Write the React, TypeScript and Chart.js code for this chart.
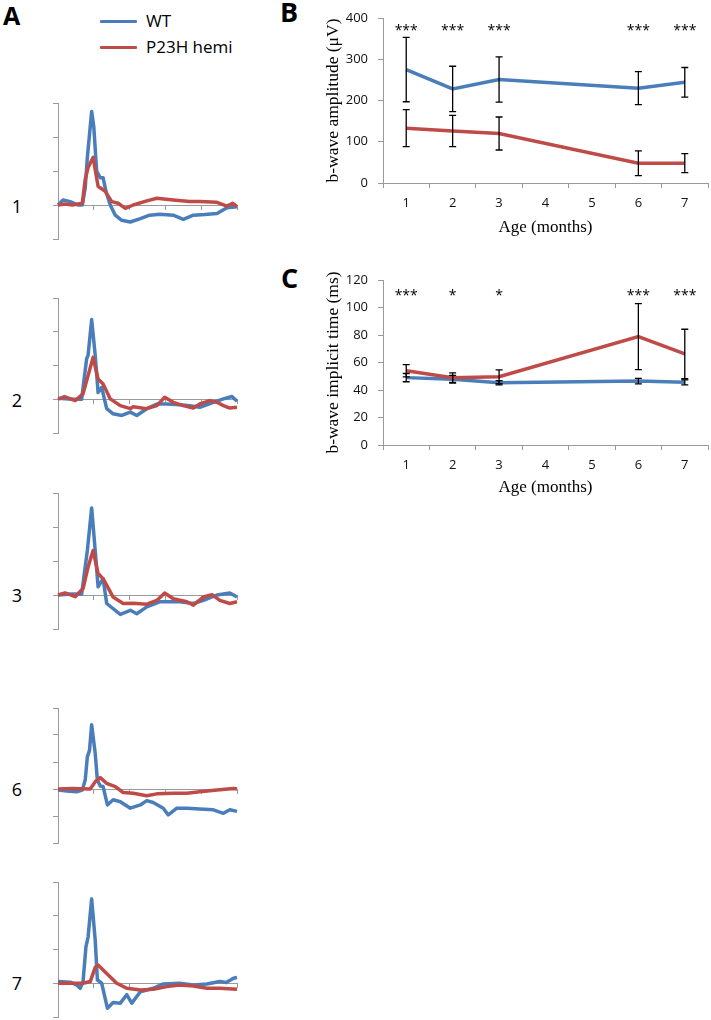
import React, { useEffect, useRef } from "react";
import { Chart, registerables } from "chart.js";

Chart.register(...registerables);

// ---------- Panel A: ERG traces (time in ms, amplitude in axis units) ----------
const traceTimeTicks = [0, 50, 100, 150, 200, 250];

const trace1WT = [[0,0],[7,0.15],[17,0.1],[28,0],[34,0],[38,0.5],[41,1.4],[45,2.3],[47,2.75],[50,2.3],[54,1.0],[59,0.8],[63,0.8],[67,0.4],[73,0],[80,-0.3],[89,-0.45],[101,-0.5],[115,-0.4],[128,-0.3],[142,-0.27],[161,-0.3],[175,-0.42],[189,-0.3],[205,-0.28],[222,-0.25],[236,-0.08],[250,-0.05]];
const trace1P23H = [[0,0],[10,0.03],[20,0],[34,0.05],[38,0.75],[42,1.1],[49,1.4],[56,0.55],[66,0.4],[75,0.1],[84,0.05],[94,-0.1],[105,0],[124,0.12],[138,0.2],[161,0.15],[184,0.1],[198,0.1],[222,0.08],[236,-0.03],[244,0.05],[250,-0.05]];

const trace2WT = [[0,0.03],[20,0],[33,0],[40,1.2],[42,1.3],[47,2.36],[52,1.3],[56,0.2],[61,0.35],[68,-0.28],[77,-0.43],[89,-0.48],[101,-0.38],[110,-0.48],[124,-0.28],[138,-0.14],[152,-0.14],[170,-0.16],[184,-0.19],[198,-0.24],[217,-0.09],[231,0.01],[243,0.08],[250,-0.06]];
const trace2P23H = [[0,0],[9,0.08],[24,-0.04],[35,0.16],[42,0.7],[49,1.24],[56,0.6],[63,0.45],[73,0.01],[87,-0.19],[101,-0.28],[105,-0.22],[124,-0.28],[138,-0.19],[149,0.06],[161,-0.09],[175,-0.19],[189,-0.26],[198,-0.14],[212,-0.04],[222,-0.09],[231,-0.19],[240,-0.26],[250,-0.24]];

const trace3WT = [[0,0],[20,0.03],[33,0.02],[41,1.31],[47,2.56],[52,1.3],[56,0.24],[63,0.48],[68,-0.25],[87,-0.57],[101,-0.45],[110,-0.55],[124,-0.35],[142,-0.2],[170,-0.2],[189,-0.25],[203,-0.16],[222,0],[240,0.06],[250,-0.06]];
const trace3P23H = [[0,0],[10,0.06],[24,-0.05],[35,0.19],[42,0.82],[49,1.31],[56,0.63],[63,0.48],[77,-0.06],[91,-0.25],[105,-0.24],[124,-0.27],[138,-0.16],[149,0.06],[161,-0.11],[180,-0.2],[189,-0.3],[203,-0.06],[215,0.01],[226,-0.16],[240,-0.25],[250,-0.2]];

const trace6WT = [[0,-0.04],[12,-0.07],[26,-0.1],[34,-0.04],[38,0.33],[41,1.19],[44,1.43],[47,2.38],[52,1.31],[55,0.33],[59,0.11],[63,0.09],[69,-0.59],[77,-0.4],[87,-0.47],[101,-0.71],[115,-0.59],[124,-0.43],[133,-0.5],[147,-0.71],[154,-0.96],[166,-0.71],[180,-0.71],[198,-0.74],[217,-0.77],[231,-0.9],[240,-0.77],[250,-0.83]];
const trace6P23H = [[0,0],[20,0.02],[45,0],[52,0.27],[59,0.42],[68,0.21],[80,0.09],[91,-0.13],[105,-0.16],[124,-0.25],[138,-0.18],[161,-0.16],[180,-0.16],[198,-0.1],[222,-0.04],[245,0.02],[250,0]];

const trace7WT = [[0,0.05],[17,0.03],[26,-0.05],[31,-0.15],[35,0.05],[39,1.08],[42,1.37],[47,2.5],[52,1.27],[55,0.1],[61,0],[69,-0.74],[77,-0.57],[87,-0.59],[96,-0.34],[103,-0.59],[115,-0.25],[133,-0.15],[147,-0.02],[170,0],[189,-0.05],[208,-0.02],[226,0.05],[235,0.02],[245,0.15],[250,0.17]];
const trace7P23H = [[0,0],[35,0],[45,0.05],[52,0.47],[56,0.54],[68,0.29],[82,0],[96,-0.15],[115,-0.2],[133,-0.18],[152,-0.1],[170,-0.05],[189,-0.08],[208,-0.15],[226,-0.15],[250,-0.18]];

const traceAges = ["1", "2", "3", "6", "7"];
const traceYMin = [-1, -1, -1, -2, -1];
const traceYMax = [3, 3, 3, 3, 3];

// ---------- Panels B and C ----------
const ageLabels = ["1", "2", "3", "4", "5", "6", "7"];

const ampWT = [275, 228, 251, null, null, 230, 244];
const ampWTErr = [78, 55, 55, null, null, 40, 36];
const ampP23H = [133, 126, 120, null, null, 48, 48];
const ampP23HErr = [45, 38, 40, null, null, 30, 23];
const ampStars = ["***", "***", "***", "", "", "***", "***"];
const ampStarLevel = 378;

const timeWT = [49, 47.8, 45.3, null, null, 46.5, 45.6];
const timeWTErr = [3, 2.8, 1.5, null, null, 2, 1.8];
const timeP23H = [54, 49, 49.7, null, null, 78.8, 66.2];
const timeP23HErr = [4.5, 3.5, 5, null, null, 24, 18];
const timeStars = ["***", "*", "*", "", "", "***", "***"];
const timeStarLevel = 111;

const BLUE = "#4a7ebb";
const RED = "#be4b48";
const AXIS = "#9a9a9a";
const SANS = '"Open Sans", "Noto Sans", sans-serif';
const SERIF = '"Liberation Serif", "DejaVu Serif", serif';

function toXY(arr: number[][]) {
  return arr.map(([x, y]) => ({ x, y }));
}

function traceConfig(wt: number[][], p23h: number[][], yMin: number, yMax: number): any {
  return {
    type: "line",
    data: {
      datasets: [
        { label: "WT", data: toXY(wt), borderColor: BLUE, borderWidth: 3.5, pointRadius: 0, tension: 0, clip: 6, order: 2, borderJoinStyle: "round" },
        { label: "P23H hemi", data: toXY(p23h), borderColor: RED, borderWidth: 3.5, pointRadius: 0, tension: 0, clip: 6, order: 1, borderJoinStyle: "round" },
      ],
    },
    options: {
      animation: false,
      responsive: false,
      maintainAspectRatio: false,
      events: [],
      layout: { padding: { left: 52, right: 8, top: 6, bottom: 6 } },
      plugins: { legend: { display: false }, tooltip: { enabled: false } },
      scales: {
        x: {
          type: "linear",
          min: traceTimeTicks[0],
          max: traceTimeTicks[traceTimeTicks.length - 1],
          position: { y: 0 },
          afterBuildTicks: (s: any) => { s.ticks = traceTimeTicks.map((v) => ({ value: v })); },
          ticks: { display: false },
          grid: { drawOnChartArea: false, drawTicks: true, tickLength: 4, color: AXIS },
          border: { display: true, color: AXIS, width: 1 },
          afterFit: (s: any) => { s.height = 0; },
        },
        y: {
          type: "linear",
          min: yMin,
          max: yMax,
          ticks: { display: false, stepSize: 1 },
          grid: { drawOnChartArea: false, drawTicks: true, tickLength: 5, color: AXIS },
          border: { display: true, color: AXIS, width: 1 },
          afterFit: (s: any) => { s.width = 6; },
        },
      },
    },
  };
}

function makeAnnotPlugin(stars: string[], starLevel: number) {
  return {
    id: "annot",
    afterDatasetsDraw(chart: any) {
      const { ctx } = chart;
      const xs = chart.scales.x;
      const ys = chart.scales.y;
      ctx.save();
      // error bars
      ctx.strokeStyle = "#000";
      ctx.lineWidth = 1.3;
      chart.data.datasets.forEach((ds: any, di: number) => {
        const meta = chart.getDatasetMeta(di);
        ds.data.forEach((v: number | null, i: number) => {
          const e = ds.errors[i];
          if (v == null || e == null) return;
          const x = meta.data[i].x;
          const yt = ys.getPixelForValue(v + e);
          const yb = ys.getPixelForValue(v - e);
          ctx.beginPath();
          ctx.moveTo(x, yt); ctx.lineTo(x, yb);
          ctx.moveTo(x - 3.5, yt); ctx.lineTo(x + 3.5, yt);
          ctx.moveTo(x - 3.5, yb); ctx.lineTo(x + 3.5, yb);
          ctx.stroke();
        });
      });
      // significance stars
      ctx.fillStyle = "#000";
      ctx.font = "14px " + SANS;
      ctx.textAlign = "center";
      ctx.textBaseline = "middle";
      stars.forEach((t, i) => {
        if (!t) return;
        ctx.fillText(t, xs.getPixelForValue(i), ys.getPixelForValue(starLevel) + 4);
      });
      ctx.restore();
    },
  };
}

function ageConfig(
  wt: (number | null)[], wtErr: (number | null)[],
  p23h: (number | null)[], p23hErr: (number | null)[],
  stars: string[], starLevel: number,
  yMax: number, step: number, yTitle: string, padTop: number, xH: number
): any {
  return {
    type: "line",
    data: {
      labels: ageLabels,
      datasets: [
        { label: "WT", data: wt, errors: wtErr, borderColor: BLUE, borderWidth: 3.5, pointRadius: 0, spanGaps: true, tension: 0, order: 2 },
        { label: "P23H hemi", data: p23h, errors: p23hErr, borderColor: RED, borderWidth: 3.5, pointRadius: 0, spanGaps: true, tension: 0, order: 1 },
      ],
    },
    plugins: [makeAnnotPlugin(stars, starLevel)],
    options: {
      animation: false,
      responsive: false,
      maintainAspectRatio: false,
      events: [],
      layout: { padding: { left: 0, right: 3, top: padTop, bottom: 0 } },
      plugins: { legend: { display: false }, tooltip: { enabled: false } },
      scales: {
        x: {
          type: "category",
          offset: true,
          grid: { offset: true, drawOnChartArea: false, drawTicks: true, tickLength: 5, color: AXIS },
          border: { display: true, color: AXIS, width: 1 },
          ticks: { font: { family: SANS, size: 13 }, color: "#111", padding: 7, maxRotation: 0, autoSkip: false },
          title: { display: true, text: "Age (months)", font: { family: SERIF, size: 17 }, color: "#000", padding: { top: 0, bottom: 2 } },
          afterFit: (s: any) => { s.height = xH; },
        },
        y: {
          min: 0,
          max: yMax,
          ticks: { stepSize: step, font: { family: SANS, size: 13 }, color: "#111", padding: 10 },
          grid: { drawOnChartArea: false, drawTicks: true, tickLength: 5, color: AXIS },
          border: { display: true, color: AXIS, width: 1 },
          title: { display: true, text: yTitle, font: { family: SERIF, size: 17.5 }, color: "#000", padding: { top: 23, bottom: 0 } },
          afterFit: (s: any) => { s.width = 83; },
        },
      },
    },
  };
}

function ChartBox(props: { left: number; top: number; width: number; height: number; make: () => any }) {
  const ref = useRef<HTMLCanvasElement | null>(null);
  useEffect(() => {
    const chart = new Chart(ref.current as HTMLCanvasElement, props.make());
    return () => chart.destroy();
  }, []);
  return (
    <canvas
      ref={ref}
      width={props.width}
      height={props.height}
      style={{ position: "absolute", left: props.left, top: props.top, width: props.width, height: props.height }}
    />
  );
}

const traceSeries = [
  [trace1WT, trace1P23H],
  [trace2WT, trace2P23H],
  [trace3WT, trace3P23H],
  [trace6WT, trace6P23H],
  [trace7WT, trace7P23H],
];
// layout: top and bottom pixel of each trace's y-axis, and zero line position
const traceBoxes = [
  { top: 103, bottom: 239, zero: 206 },
  { top: 298, bottom: 433, zero: 400 },
  { top: 493, bottom: 629, zero: 595 },
  { top: 708, bottom: 843, zero: 789 },
  { top: 882, bottom: 1017, zero: 983 },
];

const textStyle = (left: number, top: number, size: number, bold = false): React.CSSProperties => ({
  position: "absolute",
  left,
  top,
  fontFamily: SANS,
  fontSize: size,
  fontWeight: bold ? 700 : 400,
  lineHeight: 1,
  color: "#000",
  whiteSpace: "nowrap",
});

export default function App() {
  return (
    <div style={{ position: "absolute", left: 0, top: 0, width: 711, height: 1020, background: "#fff", overflow: "hidden" }}>
      <div style={textStyle(3, 3, 25, true)}>A</div>
      <div style={textStyle(280, -2, 27, true)}>B</div>
      <div style={textStyle(281, 264, 27, true)}>C</div>

      {/* legend */}
      <div style={{ position: "absolute", left: 100, top: 19.5, width: 37, height: 3.5, background: BLUE, borderRadius: 1 }} />
      <div style={textStyle(146, 12, 17)}>WT</div>
      <div style={{ position: "absolute", left: 100, top: 45.5, width: 37, height: 3.5, background: RED, borderRadius: 1 }} />
      <div style={textStyle(146, 38, 17)}>P23H hemi</div>

      {traceBoxes.map((b, i) => (
        <React.Fragment key={i}>
          <div style={{ ...textStyle(7, b.zero - 9.5, 18), width: 20, textAlign: "center" }}>{traceAges[i]}</div>
          <ChartBox
            left={0}
            top={b.top - 6}
            width={245}
            height={b.bottom - b.top + 12}
            make={() => traceConfig(traceSeries[i][0], traceSeries[i][1], traceYMin[i], traceYMax[i])}
          />
        </React.Fragment>
      ))}

      <ChartBox
        left={300}
        top={0}
        width={411}
        height={240}
        make={() => ageConfig(ampWT, ampWTErr, ampP23H, ampP23HErr, ampStars, ampStarLevel, 400, 100, "b-wave amplitude (μV)", 18, 57)}
      />
      <ChartBox
        left={300}
        top={260}
        width={411}
        height={240}
        make={() => ageConfig(timeWT, timeWTErr, timeP23H, timeP23HErr, timeStars, timeStarLevel, 120, 20, "b-wave implicit time (ms)", 20, 55)}
      />
    </div>
  );
}
